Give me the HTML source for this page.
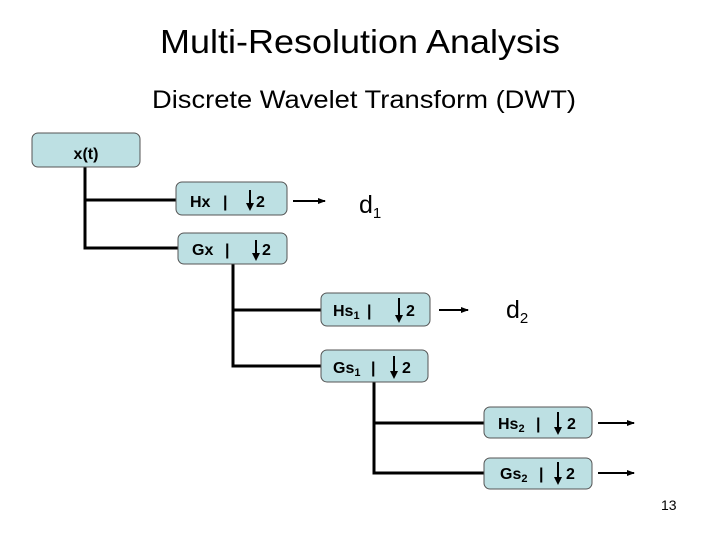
<!DOCTYPE html>
<html><head><meta charset="utf-8"><style>
html,body{margin:0;padding:0;background:#fff}
svg{display:block}
text{font-family:"Liberation Sans",Arial,sans-serif;fill:#000}
.b{font-weight:bold;font-size:16px}
</style></head><body>
<svg width="720" height="540" viewBox="0 0 720 540" xmlns="http://www.w3.org/2000/svg">
<defs>
<marker id="ah" markerWidth="8" markerHeight="8" refX="7" refY="4" orient="auto" markerUnits="userSpaceOnUse">
<path d="M0,1 L8,4 L0,7 Z" fill="#000"/></marker>
</defs>
<text x="360" y="53" font-size="33" text-anchor="middle" textLength="400" lengthAdjust="spacingAndGlyphs">Multi-Resolution Analysis</text>
<text x="364" y="108" font-size="25" text-anchor="middle" textLength="424" lengthAdjust="spacingAndGlyphs">Discrete Wavelet Transform (DWT)</text>

<g stroke="#000" stroke-width="3" fill="none">
<path d="M85,167 V248 H179 M85,200 H177"/>
<path d="M233,264 V366 H322 M233,310 H322"/>
<path d="M374,382 V473 H485 M374,423 H485"/>
</g>
<g stroke="#000" stroke-width="2">
<line x1="293" y1="201" x2="325" y2="201" marker-end="url(#ah)"/>
<line x1="439" y1="310" x2="468" y2="310" marker-end="url(#ah)"/>
<line x1="598" y1="423" x2="634" y2="423" marker-end="url(#ah)"/>
<line x1="598" y1="473" x2="634" y2="473" marker-end="url(#ah)"/>
</g>

<g fill="#bde0e3" stroke="#555" stroke-width="1">
<rect x="32" y="133" width="108" height="34" rx="6"/>
<rect x="176" y="182" width="111" height="33" rx="6"/>
<rect x="178" y="233" width="109" height="31" rx="6"/>
<rect x="321" y="293" width="109" height="33" rx="6"/>
<rect x="321" y="350" width="107" height="32" rx="6"/>
<rect x="484" y="407" width="108" height="31" rx="6"/>
<rect x="484" y="458" width="108" height="31" rx="6"/>
</g>

<text class="b" x="86" y="159" text-anchor="middle">x(t)</text>

<text class="b" x="190" y="207">Hx</text><text class="b" x="223" y="207">|</text>
<text class="b" x="256" y="207">2</text>
<text class="b" x="192" y="255">Gx</text><text class="b" x="225" y="255">|</text>
<text class="b" x="262" y="255">2</text>

<text class="b" x="333" y="316">Hs<tspan font-size="11" dy="3">1</tspan></text><text class="b" x="367" y="316">|</text>
<text class="b" x="406" y="316">2</text>
<text class="b" x="333" y="373">Gs<tspan font-size="11" dy="3">1</tspan></text><text class="b" x="371" y="373">|</text>
<text class="b" x="402" y="373">2</text>

<text class="b" x="498" y="429">Hs<tspan font-size="11" dy="3">2</tspan></text><text class="b" x="536" y="429">|</text>
<text class="b" x="567" y="429">2</text>
<text class="b" x="500" y="479">Gs<tspan font-size="11" dy="3">2</tspan></text><text class="b" x="539" y="479">|</text>
<text class="b" x="566" y="479">2</text>

<g stroke="#000" stroke-width="2">
<line x1="250" y1="190" x2="250" y2="204"/>
<line x1="256" y1="240" x2="256" y2="254"/>
<line x1="399" y1="298" x2="399" y2="316"/>
<line x1="394" y1="356" x2="394" y2="372"/>
<line x1="558" y1="412" x2="558" y2="428"/>
<line x1="558" y1="462" x2="558" y2="478"/>
</g>
<g fill="#000">
<path d="M246,203 L254,203 L250,211 Z"/>
<path d="M252,253 L260,253 L256,261 Z"/>
<path d="M395,315 L403,315 L399,323 Z"/>
<path d="M390,371 L398,371 L394,379 Z"/>
<path d="M554,427 L562,427 L558,435 Z"/>
<path d="M554,477 L562,477 L558,485 Z"/>
</g>

<text x="359" y="213" font-size="25">d<tspan font-size="15" dy="5">1</tspan></text>
<text x="506" y="318" font-size="25">d<tspan font-size="15" dy="5">2</tspan></text>
<text x="661" y="510" font-size="14">13</text>
</svg>
</body></html>
